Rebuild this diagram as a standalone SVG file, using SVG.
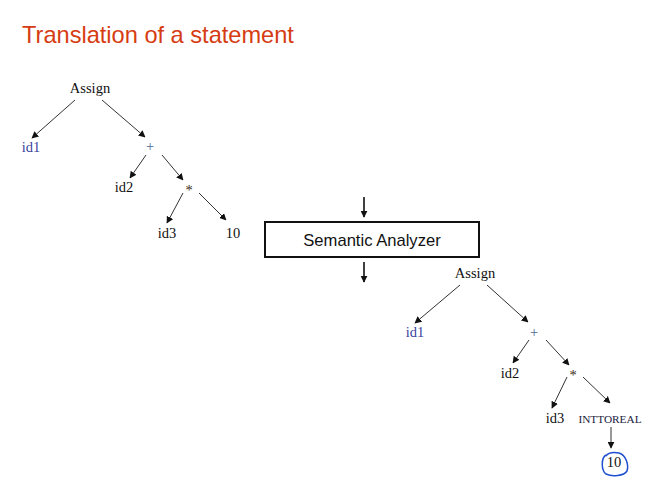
<svg xmlns="http://www.w3.org/2000/svg" width="660" height="497" viewBox="0 0 660 497">
<style>
.t{font-family:"Liberation Serif","Times New Roman",serif;font-size:14.5px;fill:#111;text-anchor:middle}
.blue{fill:#3a3fa0}
.plus{fill:#4a6a9a}
.star{fill:#3a2a10}
.small{font-size:11.3px;fill:#1a1a40}
.e line{stroke:#333;stroke-width:1;marker-end:url(#ah)}
.b line{stroke:#111;stroke-width:1.6;marker-end:url(#ahb)}
</style>
<defs>
<marker id="ah" viewBox="0 0 10 10" refX="9" refY="5" markerWidth="7" markerHeight="7" markerUnits="userSpaceOnUse" orient="auto"><path d="M0,0 L10,5 L0,10 z" fill="#111"/></marker>
<marker id="ahb" viewBox="0 0 10 10" refX="9" refY="5" markerWidth="7" markerHeight="7" markerUnits="userSpaceOnUse" orient="auto"><path d="M0,0 L10,5 L0,10 z" fill="#111"/></marker>
</defs>
<rect width="660" height="497" fill="#fff"/>
<text x="22" y="43" font-family="Liberation Sans, Arial, sans-serif" font-size="23.6" fill="#d63c12">Translation of a statement</text>

<g id="left-tree">
<g id="l-assign"><text class="t" x="90" y="93">Assign</text></g>
<g id="l-id1"><text class="t blue" x="31" y="152">id1</text></g>
<g id="l-plus"><text class="t plus" x="150" y="151">+</text></g>
<g id="l-id2"><text class="t" x="124" y="192">id2</text></g>
<g id="l-star"><text class="t star" x="189" y="195">*</text></g>
<g id="l-id3"><text class="t" x="167" y="238">id3</text></g>
<g id="l-10"><text class="t" x="233" y="238">10</text></g>
</g>

<g id="analyzer">
<rect x="265" y="222" width="214" height="35" fill="#fff" stroke="#111" stroke-width="2"/>
<text x="372" y="245.5" font-family="Liberation Sans, Arial, sans-serif" font-size="16.6" fill="#111" text-anchor="middle">Semantic Analyzer</text>
</g>

<g id="right-tree">
<g id="r-assign"><text class="t" x="475" y="278">Assign</text></g>
<g id="r-id1"><text class="t blue" x="415" y="337">id1</text></g>
<g id="r-plus"><text class="t plus" x="534" y="337">+</text></g>
<g id="r-id2"><text class="t" x="510" y="378">id2</text></g>
<g id="r-star"><text class="t star" x="573" y="380">*</text></g>
<g id="r-id3"><text class="t" x="555" y="423">id3</text></g>
<g id="r-inttoreal"><text class="t small" x="610" y="423">INTTOREAL</text></g>
<g id="r-10"><text class="t" x="614" y="467">10</text>
<path d="M606,455 C601,458 601,470 606,474 C612,477 624,476 627,471 C629,465 626,455 619,453 C613,452 608,453 606,456" fill="none" stroke="#2050d0" stroke-width="1.5"/></g>
</g>

<g id="connectors">
<g class="e">
<line x1="75" y1="100" x2="32" y2="138"/>
<line x1="102" y1="100" x2="145" y2="137"/>
<line x1="146" y1="155" x2="130" y2="178"/>
<line x1="162" y1="155" x2="183" y2="180"/>
<line x1="183" y1="193" x2="167" y2="223"/>
<line x1="199" y1="193" x2="226" y2="220"/>
<line x1="460" y1="285" x2="415" y2="323"/>
<line x1="487" y1="285" x2="528" y2="322"/>
<line x1="529" y1="340" x2="513" y2="363"/>
<line x1="546" y1="340" x2="569" y2="365"/>
<line x1="567" y1="377" x2="552" y2="408"/>
<line x1="583" y1="377" x2="610" y2="403"/>
<line x1="611" y1="427" x2="611" y2="448"/>
</g>
<g class="b">
<line x1="364" y1="197" x2="364" y2="217"/>
<line x1="364" y1="262" x2="364" y2="282"/>
</g>
</g>
</svg>
